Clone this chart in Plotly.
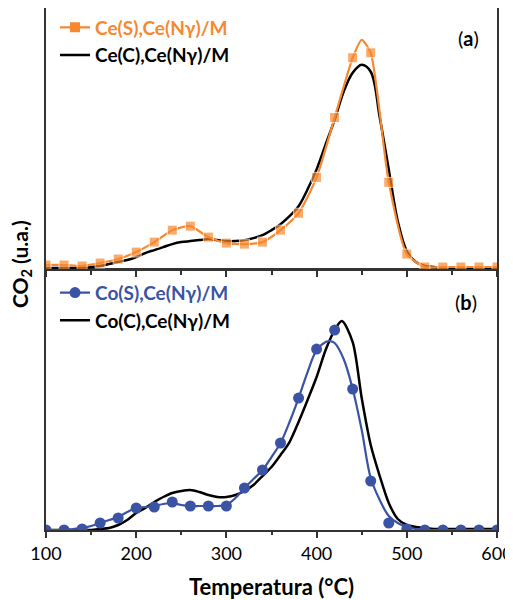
import plotly.graph_objects as go

# ---------------- data ----------------
# Panel (a)
a_orange_T = [100, 120, 140, 160, 180, 200, 220, 240, 260, 280, 300, 320, 340, 360, 380,
              400, 420, 440, 450, 460, 480, 500, 520, 540, 560, 580, 600]
a_orange_v = [4, 4, 3, 6, 10, 17, 27, 39, 43, 32, 26, 25, 27, 39, 56,
              92, 152, 212, 230, 217, 87, 15, 2, 2, 2, 2, 2]
a_orange_marker = [1, 1, 1, 1, 1, 1, 1, 1, 1, 1, 1, 1, 1, 1, 1,
                   1, 1, 1, 0, 1, 1, 1, 1, 1, 1, 1, 1]

a_black_T = [100, 110, 120, 130, 140, 150, 160, 170, 180, 190, 200, 210, 220, 230, 240, 250,
             260, 270, 280, 290, 300, 310, 320, 330, 340, 350, 360, 370, 380, 390, 400, 410,
             420, 430, 440, 450, 460, 470, 480, 490, 500, 510, 520, 530, 540, 560, 580, 600]
a_black_v = [1, 1, 1, 1, 1, 2, 3, 5, 7, 9, 12, 16, 19, 22, 25, 27,
             28, 29, 30, 29, 28, 28, 29, 31, 34, 39, 45, 53, 63, 80, 100, 125,
             150, 178, 197, 205, 198, 152, 100, 48, 18, 7, 3, 2, 1, 1, 1, 1]

# Panel (b)
b_blue_pts_T = [100, 120, 140, 160, 180, 200, 220, 240, 260, 280, 300, 320, 340, 360, 380,
                400, 420, 440, 460, 480, 500, 520, 540, 560, 580, 600]
b_blue_pts_v = [0, 0, 1, 7, 12, 22, 23, 28, 24, 24, 24, 42, 60, 87, 132,
                181, 200, 141, 49, 7, 1, 0, 0, 0, 0, 0]

b_blue_line_T = [100, 110, 120, 130, 140, 150, 160, 170, 180, 190, 200, 210, 220, 230, 240, 250,
                 260, 270, 280, 290, 300, 310, 320, 330, 340, 350, 360, 370, 380, 390, 400, 410,
                 415, 420, 430, 440, 450, 460, 470, 480, 490, 500, 510, 520, 540, 560, 580, 600]
b_blue_line_v = [0, 0, 0, 1, 2, 4, 7, 10, 13, 18, 22, 23, 24, 26, 27, 25,
                 24, 24, 24, 24, 25, 32, 42, 51, 60, 73, 87, 108, 132, 158, 180, 188,
                 189, 187, 171, 141, 100, 52, 30, 14, 7, 3, 1, 0, 0, 0, 0, 0]

b_black_T = [100, 110, 120, 130, 140, 150, 160, 170, 180, 190, 200, 210, 220, 230, 240, 250,
             260, 270, 280, 290, 300, 310, 320, 330, 340, 350, 360, 370, 380, 390, 400, 410,
             420, 428, 440, 450, 460, 470, 480, 490, 500, 510, 520, 530, 540, 560, 580, 600]
b_black_v = [0, 0, 0, 0, 0, 0, 1, 2, 5, 10, 17, 22, 28, 33, 37, 39,
             40, 38, 35, 33, 33, 35, 39, 45, 54, 63, 75, 88, 108, 130, 153, 180,
             200, 209, 188, 132, 85, 54, 27, 11, 5, 3, 2, 1, 1, 1, 1, 1]

names = ["Ce(S),Ce(Nγ)/M", "Ce(C),Ce(Nγ)/M", "Co(S),Ce(Nγ)/M", "Co(C),Ce(Nγ)/M"]

ORANGE = "#F7882F"
BLUE = "#3A53A4"
BLACK = "#000000"
FONT = "Lato"

fig = go.Figure()

# ---- panel (a) : xaxis2 / yaxis2 ----
fig.add_trace(go.Scatter(x=a_black_T, y=a_black_v, mode="lines",
                         line=dict(color=BLACK, width=2.5, shape="spline", smoothing=1.0),
                         xaxis="x2", yaxis="y2", showlegend=False))
fig.add_trace(go.Scatter(x=a_orange_T, y=a_orange_v, mode="lines+markers",
                         line=dict(color=ORANGE, width=2.2, shape="spline", smoothing=0.6),
                         marker=dict(symbol="square", color=ORANGE,
                                     size=[10 * m for m in a_orange_marker]),
                         xaxis="x2", yaxis="y2", showlegend=False))
fig.add_trace(go.Scatter(x=[None], y=[None], mode="lines+markers",
                         name="<b><span style='color:%s'>%s</span></b>" % (ORANGE, names[0]),
                         line=dict(color=ORANGE, width=2.2),
                         marker=dict(symbol="square", color=ORANGE, size=10),
                         xaxis="x2", yaxis="y2", legend="legend"))
fig.add_trace(go.Scatter(x=[None], y=[None], mode="lines",
                         name="<b>%s</b>" % names[1],
                         line=dict(color=BLACK, width=2.5),
                         xaxis="x2", yaxis="y2", legend="legend"))

# ---- panel (b) : xaxis / yaxis ----
fig.add_trace(go.Scatter(x=b_black_T, y=b_black_v, mode="lines",
                         line=dict(color=BLACK, width=2.5, shape="spline", smoothing=0.8),
                         showlegend=False))
fig.add_trace(go.Scatter(x=b_blue_line_T, y=b_blue_line_v, mode="lines",
                         line=dict(color=BLUE, width=2.2, shape="spline", smoothing=1.0),
                         showlegend=False))
fig.add_trace(go.Scatter(x=b_blue_pts_T, y=b_blue_pts_v, mode="markers",
                         marker=dict(symbol="circle", color=BLUE, size=11),
                         showlegend=False))
fig.add_trace(go.Scatter(x=[None], y=[None], mode="lines+markers",
                         name="<b><span style='color:%s'>%s</span></b>" % (BLUE, names[2]),
                         line=dict(color=BLUE, width=2.2),
                         marker=dict(symbol="circle", color=BLUE, size=11),
                         legend="legend2"))
fig.add_trace(go.Scatter(x=[None], y=[None], mode="lines",
                         name="<b>%s</b>" % names[3],
                         line=dict(color=BLACK, width=2.5),
                         legend="legend2"))

axis_line = dict(showline=True, linecolor="#333333", linewidth=1.5, mirror=True,
                 showgrid=False, zeroline=False, automargin=False)

split = 0.5

fig.update_layout(
    width=513, height=592,
    margin=dict(l=38, r=24, t=0, b=70, autoexpand=False),
    paper_bgcolor="white", plot_bgcolor="white",
    font=dict(family=FONT, color="black", size=18),
    xaxis=dict(range=[100, 600], dtick=100, tick0=100, ticks="outside", ticklen=6,
               tickwidth=1.5, tickcolor="#333333",
               minor=dict(dtick=50, tick0=100, ticks="outside", ticklen=3,
                          tickwidth=1.5, tickcolor="#333333"),
               tickfont=dict(size=18), ticklabelstandoff=1,
               title=dict(text="<b>Temperatura (°C)</b>", font=dict(size=22), standoff=27),
               **axis_line),
    yaxis=dict(domain=[0, split - 0.002], range=[0, 260], showticklabels=False, ticks="",
               **axis_line),
    xaxis2=dict(range=[100, 600], matches="x", anchor="y2", dtick=100, tick0=100,
                ticks="outside", ticklen=6, tickwidth=1.5, tickcolor="#333333",
                minor=dict(dtick=50, tick0=100, ticks="outside", ticklen=4,
                           tickwidth=1.5, tickcolor="#333333"),
                showticklabels=False, **axis_line),
    yaxis2=dict(domain=[split, 1], range=[0, 262], showticklabels=False, ticks="",
                anchor="x2", **axis_line),
    legend=dict(x=0.02, y=0.999, xanchor="left", yanchor="top",
                bgcolor="rgba(0,0,0,0)", font=dict(size=19, family=FONT),
                tracegroupgap=0, itemwidth=30),
    legend2=dict(x=0.02, y=0.491, xanchor="left", yanchor="top",
                 bgcolor="rgba(0,0,0,0)", font=dict(size=19, family=FONT),
                 tracegroupgap=0, itemwidth=30),
    annotations=[
        dict(text="(<b>a</b>)", x=0.936, y=0.943, xref="paper", yref="paper",
             xanchor="center", yanchor="middle",
             showarrow=False, font=dict(size=20, family=FONT)),
        dict(text="(<b>b</b>)", x=0.931, y=0.437, xref="paper", yref="paper",
             xanchor="center", yanchor="middle",
             showarrow=False, font=dict(size=20, family=FONT)),
        dict(text="<b>CO<sub>2</sub> (u.a.)</b>", x=-0.057, y=0.51, xref="paper",
             yref="paper", textangle=-90, showarrow=False,
             xanchor="center", yanchor="middle", borderpad=0,
             font=dict(size=21, family=FONT)),
    ],
)

fig.write_html("out.html")
